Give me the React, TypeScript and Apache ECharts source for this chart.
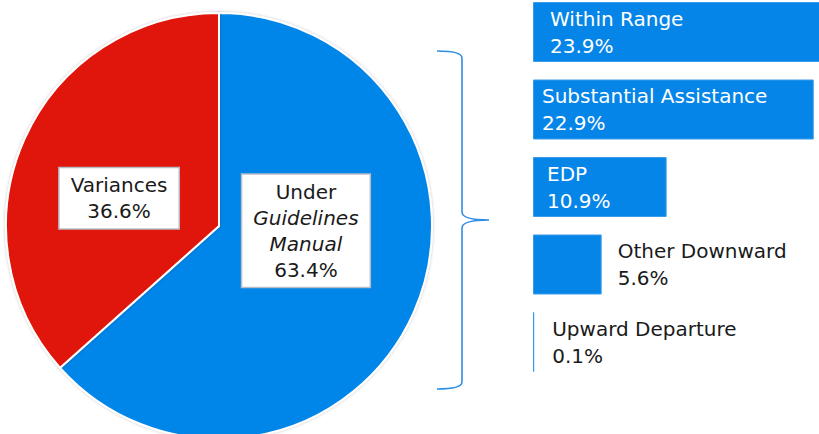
import React, { useEffect, useRef } from "react";
import * as echarts from "echarts";

const pieNames = ["Under Guidelines Manual", "Variances"];
const pieValues = [63.4, 36.6];
const pieColors = ["#0585E8", "#E01507"];

const barCategories = ["Within Range", "Substantial Assistance", "EDP", "Other Downward", "Upward Departure"];
const barValues = [23.9, 22.9, 10.9, 5.6, 0.1];
const barLabelInside = [true, true, true, false, false];
const barLabelDistance = [17, 9, 14, 16, 18];

const FONT = "DejaVu Sans";

const bracePath =
  "M437,51 Q462,51 462,58 L462,212 Q462,220 489,220 Q462,220 462,228 L462,382 Q462,389 437,389";

echarts.graphic.registerShape("brace", echarts.graphic.extendPath(bracePath, {}));

export default function App() {
  const ref = useRef<HTMLDivElement>(null);
  useEffect(() => {
    document.body.style.margin = "0";
    const chart = echarts.init(ref.current!, undefined, { renderer: "svg" });
    const pieLabelOffsets = [
      [-13, -40],
      [0, 17],
    ];
    chart.setOption({
      animation: false,
      grid: {
        left: 533,
        right: -7,
        top: -6.75,
        bottom: 53.25,
        containLabel: false,
        outerBoundsMode: "none",
      },
      xAxis: { type: "value", min: 0, max: 23.9, show: false },
      yAxis: { type: "category", data: barCategories, inverse: true, show: false },
      graphic: [
        {
          type: "brace",
          x: 0,
          y: 0,
          style: { stroke: "#2E8FE3", lineWidth: 1.6, fill: "none" },
        },
      ],
      series: [
        {
          type: "pie",
          center: [219, 226],
          radius: 213,
          startAngle: 90,
          clockwise: true,
          data: pieNames.map((n, i) => ({
            name: n,
            value: pieValues[i],
            itemStyle: { color: pieColors[i] },
          })),
          itemStyle: {
            borderColor: "#fff",
            borderWidth: 2,
            shadowBlur: 3,
            shadowColor: "rgba(0,0,0,0.25)",
          },
          label: {
            position: "inside",
            formatter: (p: any) =>
              p.dataIndex === 0
                ? `Under\n{i|Guidelines}\n{i|Manual}\n${p.value.toFixed(1)}%`
                : `${p.name}\n${p.value.toFixed(1)}%`,
            fontFamily: FONT,
            fontSize: 20,
            lineHeight: 26,
            color: "#1a1a1a",
            backgroundColor: "#fff",
            borderColor: "#b8bcc4",
            borderWidth: 1.5,
            padding: [4, 11, 4, 11],
            align: "center",
            rich: {
              i: { fontStyle: "italic", fontFamily: FONT, fontSize: 20, lineHeight: 26, color: "#1a1a1a" },
            },
          },
          labelLine: { show: false },
          labelLayout: (params: any) => {
            const o = pieLabelOffsets[params.dataIndex];
            return { dx: o[0], dy: o[1] };
          },
          emphasis: { disabled: true },
        },
        {
          type: "bar",
          barWidth: 60,
          data: barValues.map((v, i) => ({
            value: v,
            label: {
              show: true,
              position: barLabelInside[i] ? "insideLeft" : "right",
              distance: barLabelDistance[i],
              color: barLabelInside[i] ? "#fff" : "#1a1a1a",
            },
          })),
          itemStyle: { color: "#0585E8", borderColor: "#3A9BE8", borderWidth: 1 },
          label: {
            show: true,
            formatter: (p: any) => `${p.name}\n${p.value.toFixed(1)}%`,
            fontFamily: FONT,
            fontSize: 20,
            lineHeight: 27,
            align: "left",
          },
          emphasis: { disabled: true },
        },
      ],
    });
    return () => chart.dispose();
  }, []);
  return <div ref={ref} style={{ width: 819, height: 434 }} />;
}
